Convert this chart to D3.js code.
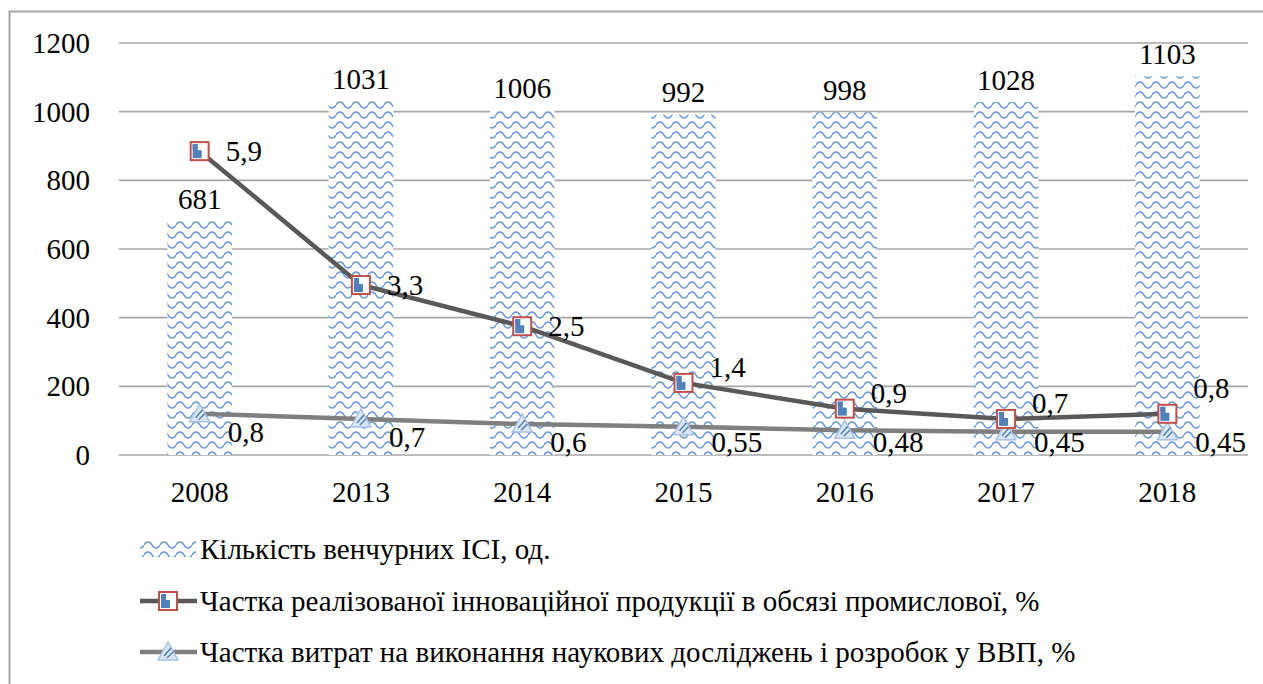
<!DOCTYPE html>
<html>
<head>
<meta charset="utf-8">
<script src="https://cdn.jsdelivr.net/npm/d3@7"></script>
</head>
<body style="margin:0">
<script>
// chart data
var years = ["2008", "2013", "2014", "2015", "2016", "2017", "2018"];
var funds = [681, 1031, 1006, 992, 998, 1028, 1103];
var innovShare = [5.9, 3.3, 2.5, 1.4, 0.9, 0.7, 0.8];
var rdShare = [0.8, 0.7, 0.6, 0.55, 0.48, 0.45, 0.45];
var yTicks = [0, 200, 400, 600, 800, 1000, 1200];
var legendNames = [
    "Кількість венчурних ІСІ, од.",
    "Частка реалізованої інноваційної продукції в обсязі промислової, %",
    "Частка витрат на виконання наукових досліджень і розробок у ВВП, %"
];

var svgWidth = 1263;
var svgHeight = 684;
var plotLeft = 119;
var plotRight = 1248;
var plotTop = 43;
var plotBottom = 455;
var fontSize = 29;

var svg = d3.select("body")
    .append("svg")
    .attr("width", svgWidth)
    .attr("height", svgHeight)
    .style("display", "block");

function styleText(sel) {
    sel.style("font-family", "'Liberation Serif', 'Times New Roman', serif")
        .attr("font-size", fontSize)
        .attr("fill", "#000");
}

// wave pattern for bars
var defs = svg.append("defs");
var pat = defs.append("pattern")
    .attr("id", "wave")
    .attr("patternUnits", "userSpaceOnUse")
    .attr("width", 16)
    .attr("height", 10);
pat.append("rect").attr("width", 16).attr("height", 10).attr("fill", "#fff");
pat.append("path")
    .attr("d", "M0,5 C2,1 6,1 8,5 C10,9 14,9 16,5")
    .attr("fill", "none")
    .attr("stroke", "#6b9ad9")
    .attr("stroke-width", 1.6);

// outer frame
svg.append("rect")
    .attr("x", 9.5).attr("y", 11.5)
    .attr("width", svgWidth + 20).attr("height", svgHeight + 20)
    .attr("fill", "none")
    .attr("stroke", "#a6a6a6")
    .attr("stroke-width", 2);

var xScale = d3.scaleBand()
    .domain(years)
    .range([plotLeft, plotRight])
    .paddingInner(0.6)
    .paddingOuter(0.3);

var yScale = d3.scaleLinear()
    .domain([0, 1200])
    .range([plotBottom, plotTop]);

// secondary axis for the percentage lines (hidden)
var y2Scale = d3.scaleLinear()
    .domain([0, 8])
    .range([plotBottom, plotTop]);

// gridlines
svg.append("g").selectAll("line")
    .data(yTicks)
    .enter()
    .append("line")
    .attr("x1", plotLeft)
    .attr("x2", plotRight)
    .attr("y1", d => yScale(d))
    .attr("y2", d => yScale(d))
    .attr("stroke", "#a6a6a6")
    .attr("stroke-width", 1.6);

// y tick labels
svg.selectAll("text.ytick")
    .data(yTicks)
    .enter()
    .append("text")
    .attr("class", "ytick")
    .attr("x", 90)
    .attr("y", d => yScale(d))
    .attr("dy", "0.35em")
    .attr("text-anchor", "end")
    .call(styleText)
    .text(d => d);

// x labels
svg.selectAll("text.xtick")
    .data(years)
    .enter()
    .append("text")
    .attr("class", "xtick")
    .attr("x", d => xScale(d) + xScale.bandwidth() / 2)
    .attr("y", 492)
    .attr("dy", "0.35em")
    .attr("text-anchor", "middle")
    .call(styleText)
    .text(d => d);

// bars
svg.append("g").selectAll("rect")
    .data(funds)
    .enter()
    .append("rect")
    .attr("x", (d, i) => xScale(years[i]))
    .attr("y", d => yScale(d))
    .attr("width", xScale.bandwidth())
    .attr("height", d => plotBottom - yScale(d))
    .attr("fill", "url(#wave)");

svg.selectAll("text.barlabel")
    .data(funds)
    .enter()
    .append("text")
    .attr("class", "barlabel")
    .attr("x", (d, i) => xScale(years[i]) + xScale.bandwidth() / 2)
    .attr("y", d => yScale(d) - 12)
    .attr("text-anchor", "middle")
    .call(styleText)
    .text(d => d);

var cx = (d, i) => xScale(years[i]) + xScale.bandwidth() / 2;

var line = d3.line()
    .x(cx)
    .y(d => y2Scale(d));

svg.append("path")
    .datum(rdShare)
    .attr("d", line)
    .attr("fill", "none")
    .attr("stroke", "#7f7f7f")
    .attr("stroke-width", 4.5);

svg.append("path")
    .datum(innovShare)
    .attr("d", line)
    .attr("fill", "none")
    .attr("stroke", "#595959")
    .attr("stroke-width", 4.5);

function squareMarker(g) {
    g.append("rect")
        .attr("x", -9).attr("y", -9)
        .attr("width", 18).attr("height", 18)
        .attr("fill", "#fff")
        .attr("stroke", "#c0504d")
        .attr("stroke-width", 2);
    g.append("rect")
        .attr("x", -7).attr("y", -7)
        .attr("width", 9).attr("height", 14)
        .attr("fill", "#4f81bd");
    g.append("rect")
        .attr("x", -2).attr("y", -7)
        .attr("width", 9).attr("height", 6)
        .attr("fill", "#fff");
    g.append("rect")
        .attr("x", -7).attr("y", -7)
        .attr("width", 5).attr("height", 5)
        .attr("fill", "#4f81bd");
}

function triangleMarker(g) {
    g.append("path")
        .attr("d", "M0,-10 L10,8 L-10,8 Z")
        .attr("fill", "#dbe6f5")
        .attr("stroke", "#a9c2e6")
        .attr("stroke-width", 1.5);
    g.append("path")
        .attr("d", "M-4,4 L3,-4 M-1,6 L5,0")
        .attr("stroke", "#4f81bd")
        .attr("stroke-width", 1.5);
}

// triangle markers and labels
svg.append("g").selectAll("g")
    .data(rdShare)
    .enter()
    .append("g")
    .attr("transform", (d, i) => `translate(${cx(d, i)},${y2Scale(d)})`)
    .each(function() { triangleMarker(d3.select(this)); });

svg.selectAll("text.rdlabel")
    .data(rdShare)
    .enter()
    .append("text")
    .attr("class", "rdlabel")
    .attr("x", (d, i) => cx(d, i) + 28)
    .attr("y", d => Math.min(y2Scale(d) + 18, 442))
    .attr("dy", "0.35em")
    .call(styleText)
    .text(d => String(d).replace(".", ","));

// square markers and labels
svg.append("g").selectAll("g")
    .data(innovShare)
    .enter()
    .append("g")
    .attr("transform", (d, i) => `translate(${cx(d, i)},${y2Scale(d)})`)
    .each(function() { squareMarker(d3.select(this)); });

// labels pushed up where the two lines run close together
function innovLabelY(d, i) {
    var gap = y2Scale(rdShare[i]) - y2Scale(d);
    if (i === innovShare.length - 1) return y2Scale(d) - 26;
    return y2Scale(d) - (gap < 50 ? 16 : 0);
}

svg.selectAll("text.inlabel")
    .data(innovShare)
    .enter()
    .append("text")
    .attr("class", "inlabel")
    .attr("x", (d, i) => cx(d, i) + 26)
    .attr("y", innovLabelY)
    .attr("dy", "0.35em")
    .call(styleText)
    .text(d => String(d).replace(".", ","));

// legend
var legendY = [549, 601, 652];
svg.append("rect")
    .attr("x", 140).attr("y", legendY[0] - 8)
    .attr("width", 56).attr("height", 16)
    .attr("fill", "url(#wave)");
[1, 2].forEach(k => {
    svg.append("line")
        .attr("x1", 140).attr("x2", 197)
        .attr("y1", legendY[k]).attr("y2", legendY[k])
        .attr("stroke", k === 1 ? "#595959" : "#7f7f7f")
        .attr("stroke-width", 4.5);
    var m = svg.append("g").attr("transform", `translate(168,${legendY[k]})`);
    if (k === 1) squareMarker(m); else triangleMarker(m);
});
svg.selectAll("text.legend")
    .data(legendNames)
    .enter()
    .append("text")
    .attr("class", "legend")
    .attr("x", 200)
    .attr("y", (d, i) => legendY[i])
    .attr("dy", "0.35em")
    .call(styleText)
    .text(d => d);
</script>
</body>
</html>
